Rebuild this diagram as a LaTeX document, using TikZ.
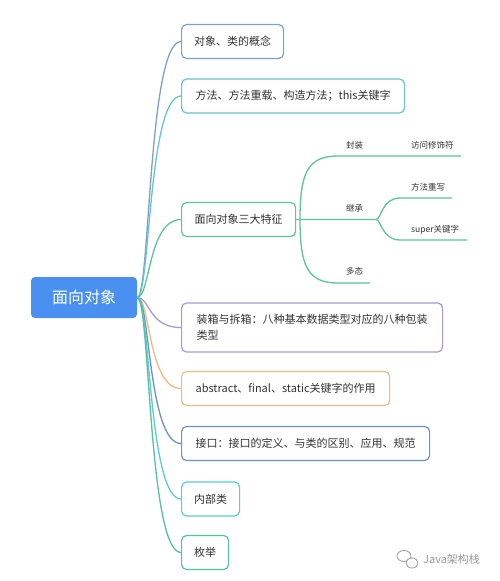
\documentclass[tikz,border=0pt]{standalone}
\usepackage{fontspec}
\setmainfont{Noto Sans CJK SC}
\usetikzlibrary{positioning}

\definecolor{rootblue}{HTML}{4A90F0}
\definecolor{textgray}{HTML}{333333}
\definecolor{clA}{HTML}{7FA0CC}
\definecolor{clB}{HTML}{66C6CC}
\definecolor{clC}{HTML}{5DC497}
\definecolor{clD}{HTML}{A99BD1}
\definecolor{clE}{HTML}{EDBB85}
\definecolor{clF}{HTML}{6F90C9}
\definecolor{clG}{HTML}{5BCBD5}
\definecolor{clH}{HTML}{52C3A0}
\definecolor{markgray}{HTML}{9A9A9A}

\begin{document}
\begin{tikzpicture}[
    x=1pt, y=-1pt,
    root/.style={
        fill=rootblue,
        rounded corners=4pt,
        minimum width=106pt,
        minimum height=41pt,
        text=white,
        font=\fontsize{16}{18}\selectfont
    },
    topic/.style={
        draw=#1,
        line width=1.2pt,
        rounded corners=5pt,
        minimum height=34pt,
        inner xsep=12pt,
        anchor=west,
        align=left,
        text=textgray,
        font=\fontsize{11}{16}\selectfont
    },
    link/.style={
        draw=#1,
        line width=1.3pt
    },
    sublink/.style={
        draw=clC,
        line width=1.3pt
    },
    sublabel/.style={
        anchor=west,
        inner sep=0pt,
        text=textgray,
        font=\fontsize{8.5}{10}\selectfont
    }
]
\useasboundingbox[fill=white] (0,0) rectangle (500,581);

% Noeuds
\node[root] (oop) at (84,297.5) {面向对象};
\node[topic=clA, minimum width=102pt] (concept) at (181,41.5) {对象、类的概念};
\node[topic=clB, minimum width=223pt] (method) at (181,96) {方法、方法重载、构造方法；this关键字};
\node[topic=clC, minimum width=114pt] (feat) at (181,219.5) {面向对象三大特征};
\node[topic=clD, minimum width=261pt, minimum height=49pt] (boxing) at (181,327.5) {装箱与拆箱：八种基本数据类型对应的八种包装\\类型};
\node[topic=clE, minimum width=208pt] (keyword) at (181,388.5) {abstract、final、static关键字的作用};
\node[topic=clF, minimum width=248pt] (iface) at (181,443.5) {接口：接口的定义、与类的区别、应用、规范};
\node[topic=clG, minimum width=58pt] (inner) at (181,499) {内部类};
\node[topic=clH, minimum width=47pt] (enum) at (181,552.5) {枚举};

% Branches principales
\draw[link=clA] (oop.east) .. controls +(13,0) and +(-33,0) .. (concept.west);
\draw[link=clB] (oop.east) .. controls +(13,0) and +(-33,0) .. (method.west);
\draw[link=clC] (oop.east) .. controls +(13,0) and +(-33,0) .. (feat.west);
\draw[link=clD] (oop.east) .. controls +(13,0) and +(-33,0) .. (boxing.west);
\draw[link=clE] (oop.east) .. controls +(13,0) and +(-33,0) .. (keyword.west);
\draw[link=clF] (oop.east) .. controls +(13,0) and +(-33,0) .. (iface.west);
\draw[link=clG] (oop.east) .. controls +(13,0) and +(-33,0) .. (inner.west);
\draw[link=clH] (oop.east) .. controls +(13,0) and +(-33,0) .. (enum.west);

% Trois caracteristiques
\coordinate (fork) at (300,219.5);
\coordinate (inhFork) at (376,219.5);
\coordinate (encEnd) at (461,156);
\coordinate (ovrEnd) at (452,198);
\coordinate (supEnd) at (467,240);
\coordinate (polyEnd) at (370,283);

\draw[sublink] (feat.east) -- (fork) .. controls (300,172) and (308,156) .. (338,156) -- (encEnd);
\draw[sublink] (fork) -- (inhFork) .. controls (381,219.5) and (382,198) .. (400,198) -- (ovrEnd);
\draw[sublink] (inhFork) .. controls (381,219.5) and (382,240) .. (400,240) -- (supEnd);
\draw[sublink] (fork) .. controls (300,267) and (308,283) .. (338,283) -- (polyEnd);

\node[sublabel] (enc) at (346,145) {封装};
\node[sublabel] (access) at (411,145) {访问修饰符};
\node[sublabel] (inh) at (346,208) {继承};
\node[sublabel] (ovr) at (411,187) {方法重写};
\node[sublabel] (sup) at (411,230) {super关键字};
\node[sublabel] (poly) at (346,271) {多态};

% Filigrane
\draw[markgray, line width=0.8pt] (404,556) ellipse (7pt and 5.5pt);
\draw[markgray, line width=0.8pt, fill=white] (412,563) ellipse (6pt and 5pt);
\node[anchor=west, inner sep=0pt, text=markgray, font=\fontsize{11}{13}\selectfont] (mark) at (423,559) {Java架构栈};
\end{tikzpicture}
\end{document}
